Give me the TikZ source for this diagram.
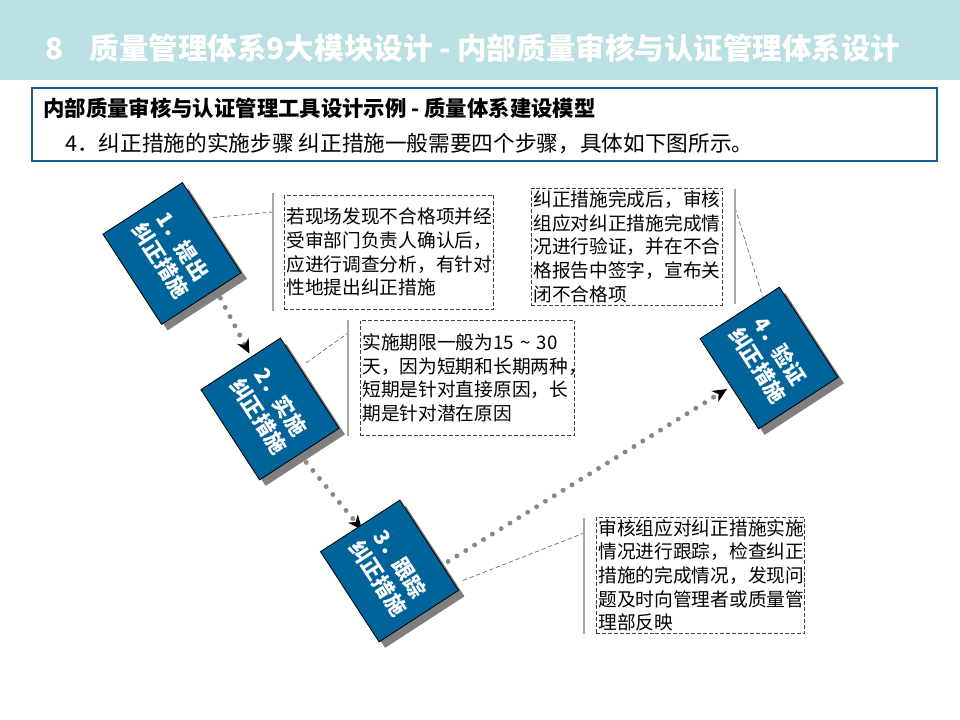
\documentclass[tikz,border=0pt]{standalone}
\usepackage{fontspec}
\setmainfont{Noto Sans CJK SC}
\usetikzlibrary{arrows.meta,backgrounds}
\definecolor{barteal}{RGB}{187,224,227}
\definecolor{headblue}{RGB}{23,94,148}
\definecolor{stepblue}{RGB}{0,99,153}
\definecolor{shadegray}{RGB}{128,128,128}
\definecolor{dotgray}{RGB}{136,136,136}
\definecolor{railgray}{RGB}{166,166,166}
\begin{document}
\begin{tikzpicture}[x=0.025cm, y=-0.025cm,
    stepbox/.style={rectangle, draw=black, line width=0.6pt, fill=stepblue, rotate=-57,
      minimum width=76.5pt, minimum height=67.3pt, inner sep=0pt, text=white, align=center,
      font=\fontsize{15pt}{18.5pt}\selectfont\bfseries},
    stepshade/.style={rectangle, fill=shadegray, rotate=-57,
      minimum width=76.5pt, minimum height=67.3pt, inner sep=0pt},
    notebox/.style={draw=black!75, line width=0.6pt, dash pattern=on 2.8pt off 1.4pt,
      anchor=north west, inner sep=1.4pt, align=left,
      font=\fontsize{13.3pt}{16.8pt}\selectfont},
    flow/.style={draw=dotgray, line width=3.5pt, line cap=round, dash pattern=on 0pt off 7.4pt,
      -{Stealth[color=black, length=10pt, width=9pt, inset=3pt]}},
    rail/.style={draw=railgray, line width=1.4pt},
    leader/.style={draw=black!60, line width=0.5pt, dash pattern=on 3pt off 2pt}]
    \useasboundingbox (0,0) rectangle (960,720);

    % Title bar
    \fill[barteal] (0,0) rectangle (960,80);
    \node[anchor=west, inner sep=0pt, text=white, font=\fontsize{21pt}{24pt}\selectfont\bfseries] (title) at (45,48)
      {8\hspace{0.9em}质量管理体系9大模块设计 - 内部质量审核与认证管理体系设计};

    % Header box
    \draw[headblue, line width=1.1pt] (32,88) rectangle (937,161);
    \node[anchor=west, inner sep=0pt, font=\fontsize{15.2pt}{18pt}\selectfont\bfseries] (head) at (43,108)
      {内部质量审核与认证管理工具设计示例 - 质量体系建设模型};
    \node[anchor=west, inner sep=0pt, font=\fontsize{15.4pt}{18pt}\selectfont] (sub) at (65,143)
      {4．纠正措施的实施步骤\ 纠正措施一般需要四个步骤，具体如下图所示。};

    % Step boxes with their shadows
    \node[stepshade] (s1) at (178,259.5) {};
    \node[stepbox] (b1) at (172,253.5) {1．提出\\纠正措施};
    \node[stepshade] (s2) at (276,415) {};
    \node[stepbox] (b2) at (270,409) {2．实施\\纠正措施};
    \node[stepshade] (s3) at (395.5,577) {};
    \node[stepbox] (b3) at (389.5,571) {3．跟踪\\纠正措施};
    \node[stepshade] (s4) at (775,364) {};
    \node[stepbox] (b4) at (769,358) {4．验证\\纠正措施};

    % Notes
    \node[notebox, text width=146pt, minimum height=80.8pt] (t1) at (284,195)
      {若现场发现不合格项并经\\受审部门负责人确认后，\\应进行调查分析，有针对\\性地提出纠正措施};
    \node[notebox, text width=149.6pt, minimum height=81.5pt] (t2) at (360,320)
      {实施期限一般为15 \textasciitilde{} 30\\天，因为短期和长期两种，\\短期是针对直接原因，长\\期是针对潜在原因};
    \node[notebox, text width=133.2pt, minimum height=83pt] (t3) at (531,188)
      {纠正措施完成后，审核\\组应对纠正措施完成情\\况进行验证，并在不合\\格报告中签字，宣布关\\闭不合格项};
    \node[notebox, text width=145.2pt, minimum height=82.2pt] (t4) at (596,517)
      {审核组应对纠正措施实施\\情况进行跟踪，检查纠正\\措施的完成情况，发现问\\题及时向管理者或质量管\\理部反映};

    % Grey rails beside the notes
    \draw[rail] ([shift={(-11,-2)}]t1.north west) -- ([shift={(-11,2)}]t1.south west);
    \draw[rail] ([shift={(-12,0)}]t2.north west) -- ([shift={(-12,1)}]t2.south west);
    \draw[rail] ([shift={(12,1)}]t3.north east) -- ([shift={(12,-2)}]t3.south east);
    \draw[rail] ([shift={(-12,1)}]t4.north west) -- ([shift={(-12,0)}]t4.south west);

    % Dotted flow and leaders, behind the boxes
    \begin{scope}[on background layer]
      \draw[flow] ([shift={(14,-10)}]b1.east) -- ([shift={(9,-10)}]b2.west);
      \draw[flow] (b2.east) -- ([shift={(2,4)}]b3.west);
      \draw[flow] ([shift={(-11,-29)}]b3.north east) -- ([shift={(-2,5)}]b4.south);
      \draw[leader] ([shift={(1,-10)}]b1.north) -- ([shift={(-11,17)}]t1.north west);
      \draw[leader] ([shift={(-4,-20)}]b2.north) -- ([shift={(-12,13)}]t2.north west);
      \draw[leader] ([shift={(12,20)}]t3.north east) -- ([shift={(-17,10)}]b4.north west);
      \draw[leader] ([shift={(4,-10)}]b3.north east) -- ([shift={(-12,16)}]t4.north west);
    \end{scope}
\end{tikzpicture}
\end{document}
